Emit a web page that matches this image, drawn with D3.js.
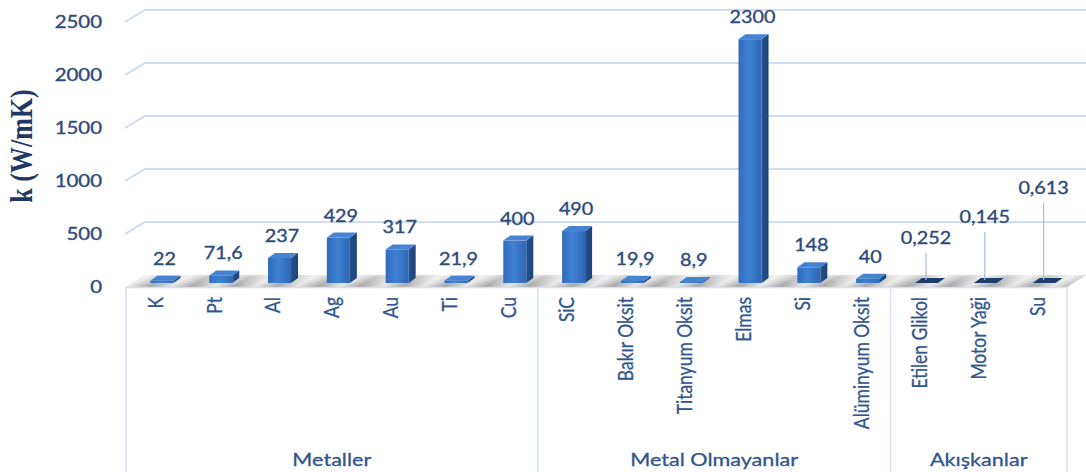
<!DOCTYPE html>
<html>
<head>
<meta charset="utf-8">
<script src="https://cdn.jsdelivr.net/npm/d3@7/dist/d3.min.js"></script>
<style>
  html, body { margin: 0; padding: 0; background: #fff; }
  svg { display: block; }
</style>
</head>
<body>
<svg id="chart" width="1086" height="472"></svg>
<script>
// Thermal conductivity k (W/mK) by material, grouped by material class
const categories = ["K", "Pt", "Al", "Ag", "Au", "Ti", "Cu",
  "SiC", "Bakır Oksit", "Titanyum Oksit", "Elmas", "Si", "Alüminyum Oksit",
  "Etilen Glikol", "Motor Yaği", "Su"];
const values = [22, 71.6, 237, 429, 317, 21.9, 400,
  490, 19.9, 8.9, 2300, 148, 40,
  0.252, 0.145, 0.613];
const valueLabels = ["22", "71,6", "237", "429", "317", "21,9", "400",
  "490", "19,9", "8,9", "2300", "148", "40",
  "0,252", "0,145", "0,613"];
const groups = ["Metaller", "Metal Olmayanlar", "Akışkanlar"];
const groupSizes = [7, 6, 3];
const yTicks = [0, 500, 1000, 1500, 2000, 2500];

// Labels lifted above the floor with a leader line (pixels above the bar top)
const leaderLift = { "Etilen Glikol": 22, "Motor Yaği": 43, "Su": 72 };

const svg = d3.select("#chart");
const W = 1086, H = 472;
svg.append("rect").attr("width", W).attr("height", H).attr("fill", "#fff");

// 3D geometry: front plane, wall offset and bar depth
const left = 126, right = 1067;
const wallDX = 19, wallDY = 12;
const barDX = 7, barDY = 5, barW = 23;

const x = d3.scaleBand().domain(categories).range([left, right]).padding(0);
const yFront = d3.scaleLinear().domain([0, 2500]).range([287, 22]);
const yBack = d3.scaleLinear().domain([0, 2500]).range([287 - wallDY, 22 - wallDY]);
const yBar = d3.scaleLinear().domain([0, 2500]).range([283, 18]);

const textColor = "#2F4B7C";
const labelFont = "Lato, 'Open Sans', sans-serif";
const defs = svg.append("defs");

// Gradients for bar faces
const fg = defs.append("linearGradient").attr("id", "frontGrad").attr("x1", 0).attr("x2", 1).attr("y1", 0).attr("y2", 0);
fg.append("stop").attr("offset", 0).attr("stop-color", "#306BBD");
fg.append("stop").attr("offset", 0.45).attr("stop-color", "#3F80D3");
fg.append("stop").attr("offset", 1).attr("stop-color", "#2E66B3");
const sg = defs.append("linearGradient").attr("id", "sideGrad").attr("x1", 0).attr("x2", 1).attr("y1", 0).attr("y2", 0);
sg.append("stop").attr("offset", 0).attr("stop-color", "#24508D");
sg.append("stop").attr("offset", 1).attr("stop-color", "#1D4478");

// Floor shading: diagonal light/dark bands over a vertical gradient
const pat = defs.append("pattern").attr("id", "floorPat").attr("patternUnits", "userSpaceOnUse")
  .attr("width", 42).attr("height", 12).attr("patternTransform", "skewX(-58)");
const pg = defs.append("linearGradient").attr("id", "floorBand").attr("x1", 0).attr("x2", 1).attr("y1", 0).attr("y2", 0);
pg.append("stop").attr("offset", 0).attr("stop-color", "#e6e6e6");
pg.append("stop").attr("offset", 0.5).attr("stop-color", "#a0a0a0");
pg.append("stop").attr("offset", 1).attr("stop-color", "#e6e6e6");
pat.append("rect").attr("width", 42).attr("height", 12).attr("fill", "url(#floorBand)");
const fv = defs.append("linearGradient").attr("id", "floorShade").attr("x1", 0).attr("x2", 0).attr("y1", 0).attr("y2", 1);
fv.append("stop").attr("offset", 0).attr("stop-color", "#ffffff").attr("stop-opacity", 0.55);
fv.append("stop").attr("offset", 1).attr("stop-color", "#ffffff").attr("stop-opacity", 0);

// Gridlines: short diagonal on the side wall, then across the back wall
const grid = svg.append("g");
yTicks.filter(t => t > 0).forEach(t => {
  grid.append("path")
    .attr("d", `M${left - 1},${yFront(t)} L${left + wallDX},${yBack(t)} L${W},${yBack(t)}`)
    .attr("fill", "none").attr("stroke", "#D0DCF0").attr("stroke-width", 1.9);
});

// Floor
const floorPath = `M${left},${yFront(0)} L${right},${yFront(0)} L${right + wallDX},${yBack(0)} L${left + wallDX},${yBack(0)} Z`;
svg.append("path").attr("d", floorPath).attr("fill", "url(#floorPat)");
svg.append("path").attr("d", floorPath).attr("fill", "url(#floorShade)");

// Y tick labels
svg.append("g").selectAll("text").data(yTicks).join("text")
  .attr("transform", d => `translate(102,${yFront(d)}) scale(1.2,1)`)
  .attr("text-anchor", "end").attr("dy", "0.36em")
  .attr("font-family", labelFont).attr("font-size", 17)
  .attr("fill", textColor).attr("stroke", textColor).attr("stroke-width", 0.35)
  .text(d => d);

// Y axis title
svg.append("text")
  .attr("transform", "translate(32,146) scale(1.2,1) rotate(-90)")
  .attr("text-anchor", "middle")
  .attr("font-family", "'Liberation Serif', 'Times New Roman', serif")
  .attr("font-weight", "bold").attr("font-size", 26)
  .attr("fill", "#1F3864").text("k (W/mK)");

// Bars as 3D columns
const bars = svg.append("g").selectAll("g").data(categories).join("g");
bars.each(function (c, i) {
  const g = d3.select(this);
  const x0 = x(c) + x.bandwidth() / 2 - 5;
  const x1 = x0 + barW;
  const yb = yBar(0);
  const yt = yBar(values[i]);
  // side face
  g.append("path")
    .attr("d", `M${x1},${yb} L${x1 + barDX},${yb - barDY} L${x1 + barDX},${yt - barDY} L${x1},${yt} Z`)
    .attr("fill", "url(#sideGrad)");
  // front face
  g.append("rect").attr("x", x0).attr("y", yt).attr("width", barW).attr("height", Math.max(0, yb - yt))
    .attr("fill", "url(#frontGrad)");
  // top face
  g.append("path")
    .attr("d", `M${x0},${yt} L${x1},${yt} L${x1 + barDX},${yt - barDY} L${x0 + barDX},${yt - barDY} Z`)
    .attr("fill", values[i] < 5 ? "#1F3D6C" : "#4684D2");
});

// Value labels (some lifted with a leader line)
const labels = svg.append("g");
categories.forEach((c, i) => {
  const topY = yBar(values[i]) - barDY;
  const lift = leaderLift[c];
  let lx, baseY;
  if (lift) {
    lx = x(c) + x.bandwidth() / 2 + 6;
    baseY = topY - 12 - lift;
    labels.append("line")
      .attr("x1", lx).attr("x2", lx).attr("y1", baseY + 9).attr("y2", topY + 2)
      .attr("stroke", "#A8BEDF").attr("stroke-width", 1.2);
  } else {
    lx = x(c) + x.bandwidth() / 2 + 9;
    baseY = topY - 11;
  }
  labels.append("text")
    .attr("transform", `translate(${lx},${baseY}) scale(1.2,1)`)
    .attr("text-anchor", "middle")
    .attr("font-family", labelFont).attr("font-size", 16.5)
    .attr("fill", textColor).attr("stroke", textColor).attr("stroke-width", 0.35)
    .text(valueLabels[i]);
});

// Category axis: frame and group dividers
const axisTop = yFront(0);
const axis = svg.append("g").attr("stroke", "#D6E0F1").attr("stroke-width", 1.5).attr("fill", "none");
axis.append("line").attr("x1", left).attr("x2", right).attr("y1", axisTop + 0.5).attr("y2", axisTop + 0.5);
let acc = 0;
const bounds = [left];
groupSizes.forEach(n => { acc += n; bounds.push(x(categories[acc - 1]) + x.bandwidth()); });
bounds.forEach(bx => {
  axis.append("line").attr("x1", bx).attr("x2", bx).attr("y1", axisTop).attr("y2", H);
});

// Category labels, rotated
svg.append("g").selectAll("text").data(categories).join("text")
  .attr("transform", c => `translate(${x(c) + x.bandwidth() / 2},297) scale(1.2,1) rotate(-90)`)
  .attr("text-anchor", "end").attr("dy", "0.35em")
  .attr("font-family", labelFont).attr("font-size", 17.5)
  .attr("fill", "#32568E").attr("stroke", "#32568E").attr("stroke-width", 0.25)
  .text(c => c);

// Group labels
svg.append("g").selectAll("text").data(groups).join("text")
  .attr("transform", (g, i) => `translate(${(bounds[i] + bounds[i + 1]) / 2},466) scale(1.2,1)`)
  .attr("text-anchor", "middle")
  .attr("font-family", labelFont).attr("font-size", 18)
  .attr("fill", "#32568E").attr("stroke", "#32568E").attr("stroke-width", 0.3)
  .text(g => g);
</script>
</body>
</html>
